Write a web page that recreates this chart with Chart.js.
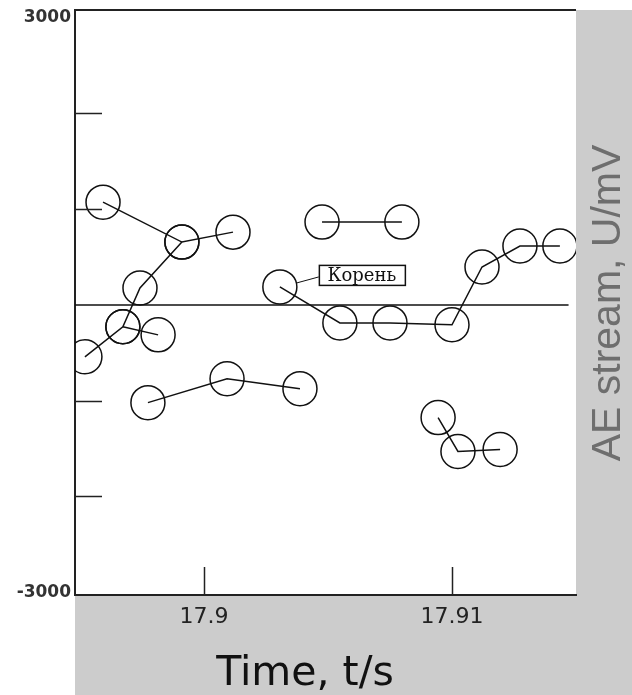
<!DOCTYPE html>
<html>
<head>
<meta charset="utf-8">
<title>AE stream</title>
<script src="https://cdn.jsdelivr.net/npm/chart.js@4.4.1/dist/chart.umd.min.js"></script>
<style>
  html, body { margin: 0; padding: 0; background: #fff; }
  #container { width: 632px; height: 695px; }
</style>
</head>
<body>
<div id="container"><canvas id="chart" width="632" height="695"></canvas></div>
<script>
// Time axis (s) and AE stream (U/mV).
var xTicks = [17.9, 17.91];
var yTicks = [-3000, -2000, -1000, 0, 1000, 2000, 3000];
var yLabelled = [-3000, 3000];

var pathA_t = [17.89593, 17.89911, 17.90117];
var pathA_u = [1073, 656, 760];

var pathB_t = [17.89520, 17.89673, 17.89742, 17.89911];
var pathB_u = [-542, -229, 177, 656];

var pathC_t = [17.89673, 17.89815];
var pathC_u = [-229, -313];

var pathD_t = [17.89774, 17.90093, 17.90387];
var pathD_u = [-1021, -771, -875];

var pathE_t = [17.90476, 17.90798];
var pathE_u = [865, 865];

// "Корень" (root) path
var rootLabel = 'Корень';
var root_t = [17.90306, 17.90548, 17.90750, 17.91000, 17.91121, 17.91274, 17.91435];
var root_u = [188, -188, -188, -208, 396, 615, 615];

var pathG_t = [17.90944, 17.91024, 17.91194];
var pathG_u = [-1177, -1531, -1510];

var zeroLine_t = [17.8948, 17.9147];
var zeroLine_u = [0, 0];

var X_MIN = 17.8948, X_MAX = 17.915;
var Y_MIN = -3030, Y_MAX = 3080;


function toPoints(ts, us) {
  var pts = [];
  for (var i = 0; i < ts.length; i++) {
    pts.push({x: ts[i], y: us[i]});
  }
  return pts;
}


function pathDataset(ts, us) {
  return {
    data: toPoints(ts, us),
    borderColor: '#111',
    borderWidth: 1.5,
    pointRadius: 17,
    pointBorderWidth: 1.5,
    pointBorderColor: '#111',
    pointBackgroundColor: 'rgba(0,0,0,0)',
    tension: 0,
  };
}


var frame = {
  id: 'frame',
  beforeDraw: function(chart) {
    var ctx = chart.ctx;
    var area = chart.chartArea;
    ctx.save();
    ctx.fillStyle = '#fff';
    ctx.fillRect(0, 0, chart.width, chart.height);
    ctx.fillStyle = '#cccccc';
    ctx.fillRect(area.right, area.top, chart.width - area.right, chart.height - area.top);
    ctx.fillRect(area.left, area.bottom, chart.width - area.left, chart.height - area.bottom);
    ctx.restore();
  },
  afterDraw: function(chart) {
    var ctx = chart.ctx;
    var area = chart.chartArea;
    var xs = chart.scales.x;
    var ys = chart.scales.y;
    ctx.save();
    ctx.strokeStyle = '#222';
    ctx.lineWidth = 2;
    ctx.beginPath();
    ctx.moveTo(area.left - 1, area.top);
    ctx.lineTo(area.right, area.top);
    ctx.stroke();

    // inward tick marks
    ctx.lineWidth = 1.5;
    ctx.beginPath();
    for (var i = 0; i < yTicks.length; i++) {
      var v = yTicks[i];
      if (v === 0 || yLabelled.indexOf(v) >= 0) {
        continue;
      }
      var py = Math.round(ys.getPixelForValue(v)) + 0.5;
      ctx.moveTo(area.left, py);
      ctx.lineTo(area.left + 27, py);
    }
    for (var j = 0; j < xTicks.length; j++) {
      var px = Math.round(xs.getPixelForValue(xTicks[j])) + 0.5;
      ctx.moveTo(px, area.bottom);
      ctx.lineTo(px, area.bottom - 28);
    }
    ctx.stroke();

    // "Корень" callout next to the first point of the root path
    var pt = chart.getDatasetMeta(5).data[0];
    ctx.lineWidth = 1;
    ctx.strokeStyle = '#111';
    ctx.beginPath();
    ctx.moveTo(pt.x + 17, pt.y - 4);
    ctx.lineTo(pt.x + 39, pt.y - 10);
    ctx.stroke();
    ctx.fillStyle = '#fff';
    ctx.fillRect(pt.x + 39, pt.y - 22, 86, 20);
    ctx.lineWidth = 1.5;
    ctx.strokeRect(pt.x + 39.5, pt.y - 21.5, 86, 20);
    ctx.fillStyle = '#111';
    ctx.font = '18px "DejaVu Serif"';
    ctx.textAlign = 'center';
    ctx.textBaseline = 'middle';
    ctx.fillText(rootLabel, pt.x + 82, pt.y - 11);

    // axis titles
    ctx.fillStyle = '#111';
    ctx.font = '41px "DejaVu Sans"';
    ctx.textBaseline = 'alphabetic';
    ctx.fillText('Time, t/s', 305, 685);

    ctx.translate(620, 303);
    ctx.rotate(-Math.PI / 2);
    ctx.fillStyle = '#6e6e6e';
    ctx.font = '41px "Liberation Sans"';
    ctx.fillText('AE stream, U/mV', 0, 0);
    ctx.restore();
  },
};


document.addEventListener('DOMContentLoaded', function(e) {
  var datasets = [
    pathDataset(pathA_t, pathA_u),
    pathDataset(pathB_t, pathB_u),
    pathDataset(pathC_t, pathC_u),
    pathDataset(pathD_t, pathD_u),
    pathDataset(pathE_t, pathE_u),
    pathDataset(root_t, root_u),
    pathDataset(pathG_t, pathG_u),
    {
      data: toPoints(zeroLine_t, zeroLine_u),
      borderColor: '#111',
      borderWidth: 1.5,
      pointRadius: 0,
    },
  ];

  new Chart(document.getElementById('chart'), {
    type: 'line',
    data: {datasets: datasets},
    plugins: [frame],
    options: {
      responsive: false,
      animation: false,
      layout: {
        autoPadding: false,
        padding: {top: 10, right: 56, left: 0, bottom: 0},
      },
      plugins: {
        legend: {display: false},
        tooltip: {enabled: false},
      },
      scales: {
        x: {
          type: 'linear',
          min: X_MIN,
          max: X_MAX,
          afterBuildTicks: function(scale) {
            scale.ticks = xTicks.map(function(v) { return {value: v}; });
          },
          afterFit: function(scale) {
            scale.height = 100;
            scale.paddingLeft = 0;
            scale.paddingRight = 0;
          },
          grid: {display: false, drawTicks: false, tickLength: 0},
          border: {display: true, width: 2, color: '#222'},
          ticks: {
            autoSkip: false,
            maxRotation: 0,
            padding: 9,
            color: '#222',
            font: {family: '"DejaVu Sans"', size: 22},
            callback: function(v) { return String(v); },
          },
        },
        y: {
          type: 'linear',
          min: Y_MIN,
          max: Y_MAX,
          afterBuildTicks: function(scale) {
            scale.ticks = yTicks.map(function(v) { return {value: v}; });
          },
          afterFit: function(scale) {
            scale.width = 75;
            scale.paddingTop = 0;
            scale.paddingBottom = 0;
          },
          grid: {display: false, drawTicks: false, tickLength: 0},
          border: {display: true, width: 2, color: '#222'},
          ticks: {
            padding: 4,
            color: '#333',
            font: {family: '"DejaVu Sans"', size: 17, weight: 'bold'},
            callback: function(v) {
              return yLabelled.indexOf(v) >= 0 ? String(v) : '';
            },
          },
        },
      },
    },
  });
});
</script>
</body>
</html>
